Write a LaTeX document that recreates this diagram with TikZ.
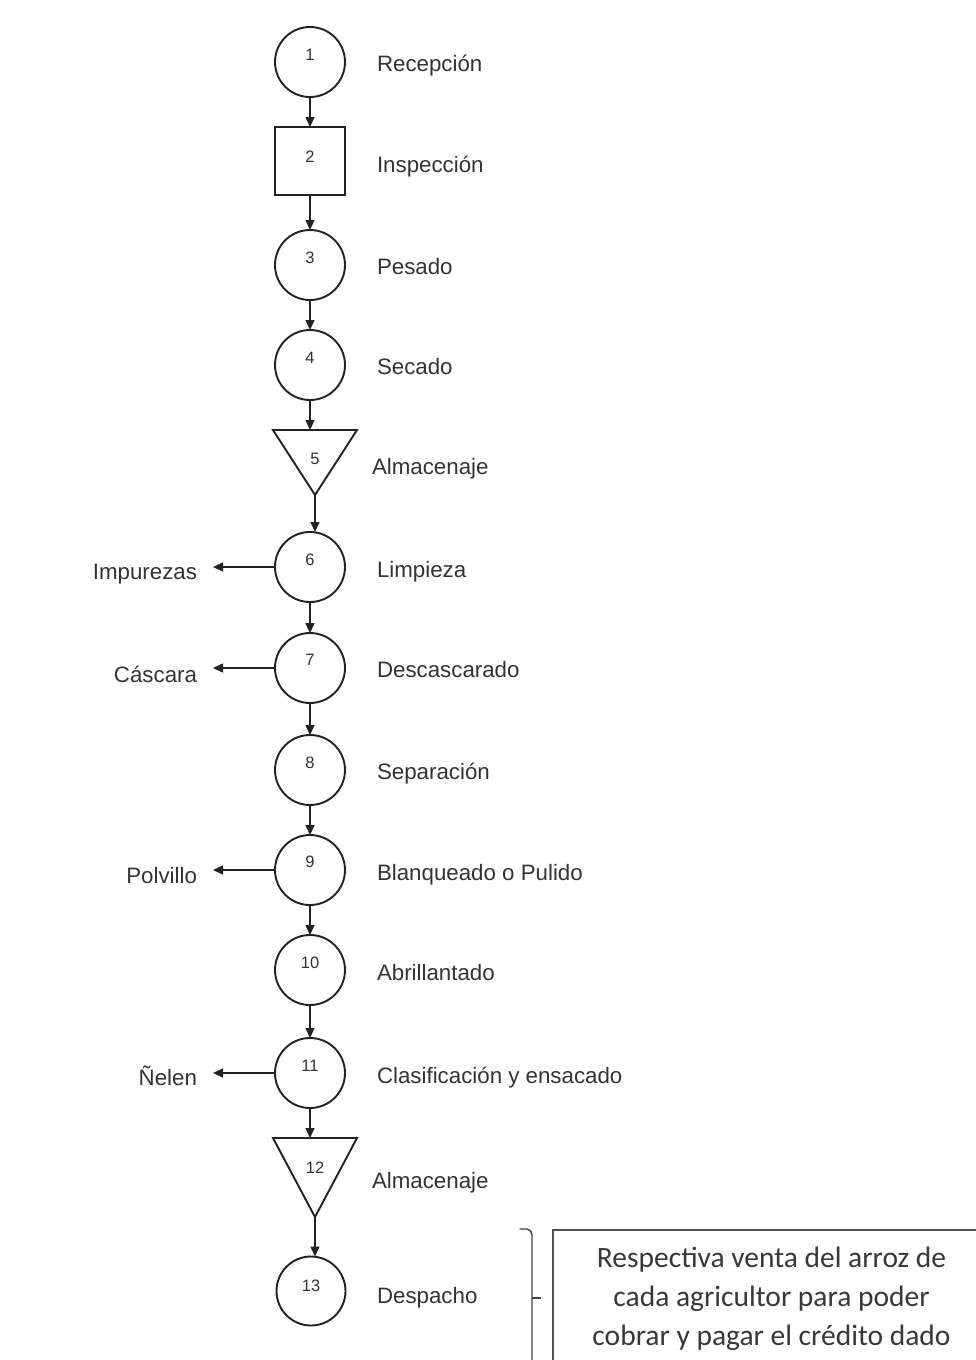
\documentclass[tikz,border=0pt]{standalone}
\usepackage{fontspec}
\setmainfont{Liberation Sans}
\newfontfamily\boxfont{Carlito}
\usetikzlibrary{arrows.meta}
\definecolor{ink}{HTML}{222222}
\definecolor{txt}{HTML}{333333}
\begin{document}
\begin{tikzpicture}[x=1pt,y=-1pt,
  every node/.style={inner sep=0pt,outer sep=0pt},
  op/.style={circle,draw=ink,line width=1.9pt,minimum size=70pt},
  insp/.style={rectangle,draw=ink,line width=1.9pt,minimum width=70pt,minimum height=68pt},
  store/.style={rectangle,draw=none,minimum width=#1},
  num/.style={font=\fontsize{16.5}{16}\selectfont,text=txt},
  stepname/.style={anchor=west,font=\fontsize{22.3}{22}\selectfont,text=txt,text height=15pt,text depth=1pt},
  waste/.style={anchor=east,font=\fontsize{22.3}{22}\selectfont,text=txt,text height=15pt,text depth=1pt},
  flow/.style={draw=ink,line width=1.5pt,-{Triangle[length=10pt,width=9pt]}},
  tri/.style={draw=ink,line width=1.9pt,line join=miter}]
\useasboundingbox (0,0) rectangle (976,1360);
\fill[white] (0,0) rectangle (976,1360);

% process symbols
\node[op]   (c1)  at (310,62)  {};
\node[insp] (c2)  at (310,161) {};
\node[op]   (c3)  at (310,265) {};
\node[op]   (c4)  at (310,365) {};
\node[store=84pt,minimum height=65pt] (t5) at (315,462.5) {};
\draw[tri] (t5.north west) -- (t5.north east) -- (t5.south) -- cycle;
\node[op]   (c6)  at (310,567) {};
\node[op]   (c7)  at (310,668) {};
\node[op]   (c8)  at (310,770) {};
\node[op]   (c9)  at (310,870) {};
\node[op]   (c10) at (310,970) {};
\node[op]   (c11) at (310,1073) {};
\node[store=84pt,minimum height=79pt] (t12) at (315,1177.5) {};
\draw[tri] (t12.north west) -- (t12.north east) -- (t12.south) -- cycle;
\node[op,minimum size=69pt] (c13) at (311,1291) {};

% step numbers
\node[num] at (310,55)   {1};
\node[num] at (310,157)  {2};
\node[num] at (310,258)  {3};
\node[num] at (310,358)  {4};
\node[num] at (315,459)  {5};
\node[num] at (310,560)  {6};
\node[num] at (310,660)  {7};
\node[num] at (310,763)  {8};
\node[num] at (310,862)  {9};
\node[num] at (310,963)  {10};
\node[num] at (310,1066) {11};
\node[num] at (315,1168) {12};
\node[num] at (311,1286) {13};

% step names
\node[stepname] (n1)  at (377,64)   {Recepción};
\node[stepname] (n2)  at (377,165)  {Inspección};
\node[stepname] (n3)  at (377,267)  {Pesado};
\node[stepname] (n4)  at (377,367)  {Secado};
\node[stepname] (n5)  at (372,467)  {Almacenaje};
\node[stepname] (n6)  at (377,570)  {Limpieza};
\node[stepname] (n7)  at (377,670)  {Descascarado};
\node[stepname] (n8)  at (377,772)  {Separación};
\node[stepname] (n9)  at (377,873)  {Blanqueado o Pulido};
\node[stepname] (n10) at (377,973)  {Abrillantado};
\node[stepname] (n11) at (377,1076) {Clasificación y ensacado};
\node[stepname] (n12) at (372,1181) {Almacenaje};
\node[stepname] (n13) at (377,1296) {Despacho};

% by-products
\node[waste] (w6)  at (197,572)  {Impurezas};
\node[waste] (w7)  at (197,675)  {Cáscara};
\node[waste] (w9)  at (197,876)  {Polvillo};
\node[waste] (w11) at (197,1078) {Ñelen};

% main flow
\draw[flow] (c1.south) -- (c2.north);
\draw[flow] (c2.south) -- (c3.north);
\draw[flow] (c3.south) -- (c4.north);
\draw[flow] (c4.south) -- (c4.south |- t5.north);
\draw[flow] (t5.south) -- (t5.south |- c6.north);
\draw[flow] (c6.south) -- (c7.north);
\draw[flow] (c7.south) -- (c8.north);
\draw[flow] (c8.south) -- (c9.north);
\draw[flow] (c9.south) -- (c10.north);
\draw[flow] (c10.south) -- (c11.north);
\draw[flow] (c11.south) -- (c11.south |- t12.north);
\draw[flow] (t12.south) -- (t12.south |- c13.north);

% outputs to the left
\draw[flow] (c6.west)  -- ([xshift=16pt]w6.east |- c6.west);
\draw[flow] (c7.west)  -- ([xshift=16pt]w7.east |- c7.west);
\draw[flow] (c9.west)  -- ([xshift=16pt]w9.east |- c9.west);
\draw[flow] (c11.west) -- ([xshift=16pt]w11.east |- c11.west);

% note and brace
\node[draw=ink!80,line width=1.2pt,anchor=north west,minimum width=440pt,minimum height=150pt]
      (note) at (553,1230) {};
\node[text=ink!90,font=\boxfont\fontsize{29.5}{39}\selectfont,align=center] (notetext) at (771.5,1299)
      {Respectiva venta del arroz de\\cada agricultor para poder\\cobrar y pagar el crédito dado};
\draw[ink!85,line width=1.4pt,line cap=round]
  (520,1229) -- (527,1229) to[out=0,in=90] (532,1235) -- (532,1370);
\draw[ink!85,line width=1.4pt] (532,1298) -- (541,1298);
\end{tikzpicture}
\end{document}
